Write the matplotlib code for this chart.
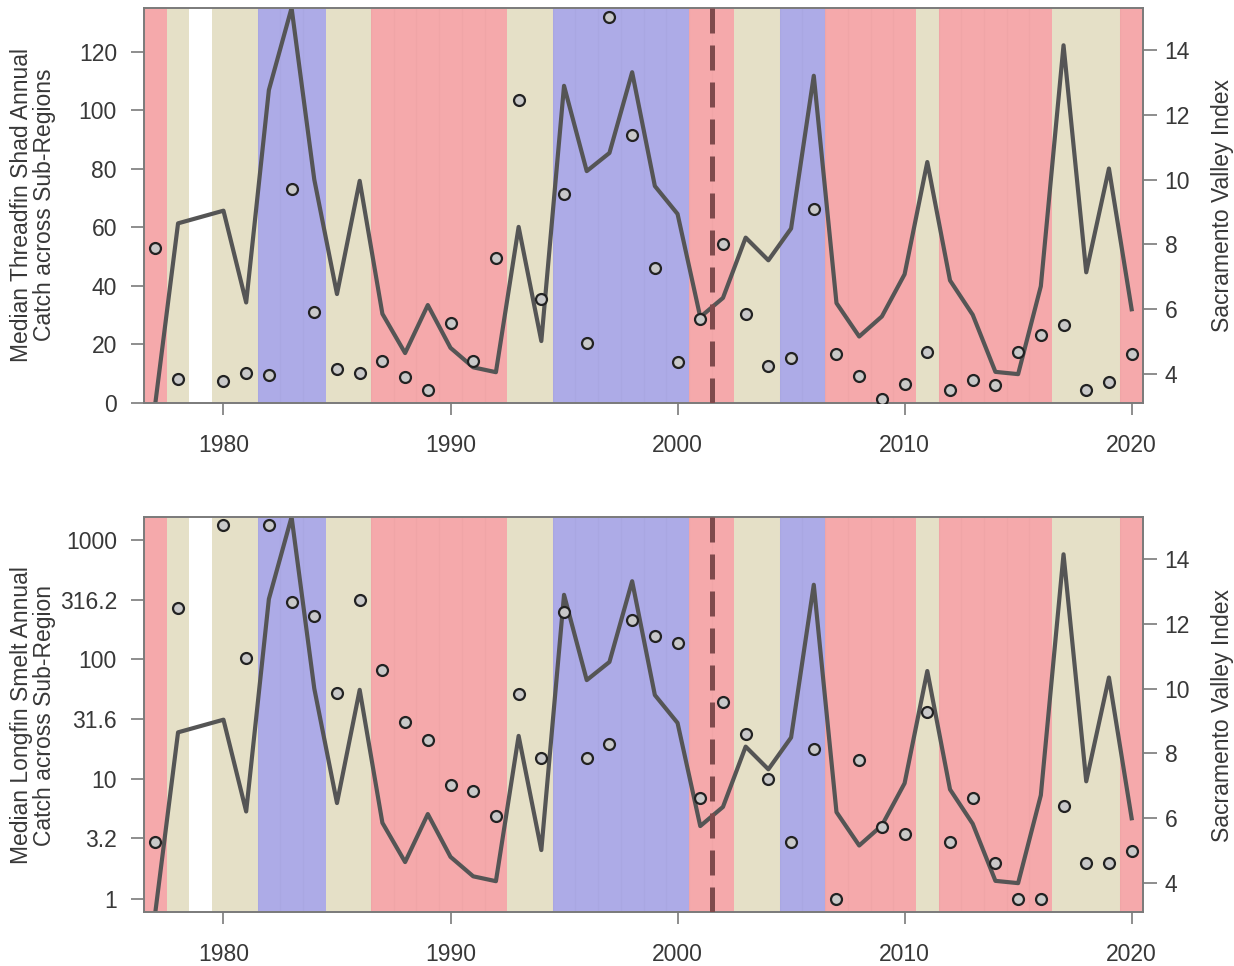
import numpy as np
import matplotlib
matplotlib.use("Agg")
import matplotlib.pyplot as plt

plt.rcParams['font.family'] = ['Liberation Sans', 'DejaVu Sans']

# water years with data (1979 missing)
years = [1977, 1978, 1980, 1981, 1982, 1983, 1984, 1985, 1986, 1987, 1988,
         1989, 1990, 1991, 1992, 1993, 1994, 1995, 1996, 1997, 1998, 1999,
         2000, 2001, 2002, 2003, 2004, 2005, 2006, 2007, 2008, 2009, 2010,
         2011, 2012, 2013, 2014, 2015, 2016, 2017, 2018, 2019, 2020]

# Sacramento Valley Index
svi = [3.11, 8.65, 9.04, 6.21, 12.76, 15.29, 10.00, 6.47, 9.96, 5.86, 4.65,
       6.13, 4.81, 4.21, 4.06, 8.54, 5.02, 12.89, 10.26, 10.82, 13.31, 9.80,
       8.94, 5.76, 6.35, 8.21, 7.51, 8.49, 13.20, 6.19, 5.16, 5.78, 7.08,
       10.54, 6.89, 5.83, 4.07, 4.00, 6.71, 14.14, 7.14, 10.34, 6.00]

# median threadfin shad catch
shad = [53.0, 8.2, 7.5, 10.2, 9.6, 73.2, 31.2, 11.7, 10.3, 14.3, 8.8,
        4.4, 27.3, 14.3, 49.7, 103.6, 35.4, 71.4, 20.4, 132.0, 91.6, 46.2,
        13.9, 28.7, 54.3, 30.4, 12.7, 15.3, 66.2, 16.8, 9.2, 1.4, 6.4,
        17.5, 4.4, 7.9, 6.2, 17.4, 23.2, 26.7, 4.4, 7.2, 16.8]

# median longfin smelt catch
smelt = [3.0, 271, 1320, 102, 1320, 303, 229, 52, 316, 82, 30,
         21.4, 8.9, 7.9, 4.9, 51.6, 15.1, 251, 15.1, 19.8, 215, 158,
         138, 7.0, 44.5, 24, 10, 3.0, 18, 1.0, 14.5, 4.0, 3.5,
         36.6, 3.0, 7.0, 2.0, 1.0, 1.0, 6.0, 2.0, 2.0, 2.5]

# background class for every year 1977-2020 ('x' = no data)
yr_class = ("d" "n" "x" "n" "n" "w" "w" "w" "n" "n" "d" "d" "d" "d" "d" "d"
            "n" "n" "w" "w" "w" "w" "w" "w" "d" "d" "n" "n" "w" "w" "d" "d"
            "d" "d" "n" "d" "d" "d" "d" "d" "n" "n" "n" "d")
class_col = {"d": "#F5A9AB", "n": "#E5E0C7", "w": "#ADABE7", "x": "#FFFFFF"}

shad_ticks = [0, 20, 40, 60, 80, 100, 120]
smelt_ticks = [1, 3.2, 10, 31.6, 100, 316.2, 1000]
smelt_ticklabels = ["1", "3.2", "10", "31.6", "100", "316.2", "1000"]
svi_ticks = [4, 6, 8, 10, 12, 14]
year_ticks = [1980, 1990, 2000, 2010, 2020]
break_year = 2001.5

W, H = 1234, 966
fig = plt.figure(figsize=(W / 100, H / 100), dpi=100)

frame_col = "#7a7a7a"
text_col = "#383838"
fs = 16.5


def panel(rect, catch, log=False):
    # back axes: year shading + index line
    ax2 = fig.add_axes(rect)
    for i, c in enumerate(yr_class):
        ax2.axvspan(1976.5 + i, 1977.5 + i, color=class_col[c], lw=0, zorder=0)
        if c in "dw":
            ax2.axvline(1976.5 + i, color="k", alpha=0.02, lw=1.0, zorder=1)
    ax2.plot(years, svi, color="#555555", lw=3.0, zorder=2)
    ax2.set_xlim(1976.5, 2020.5)
    ax2.set_ylim(3.11, 15.29)
    ax2.set_yticks(svi_ticks)
    ax2.yaxis.tick_right()
    ax2.set_xticks([])
    ax2.tick_params(axis="y", length=10, width=1.2, color=frame_col,
                    labelsize=fs, labelcolor=text_col, pad=5.5)
    for s in ax2.spines.values():
        s.set_visible(False)

    # front axes: catch points
    ax = fig.add_axes(rect)
    ax.patch.set_visible(False)
    ax.axvline(break_year, color="#7E4A4C", lw=3.6, dashes=(5, 2.4), zorder=3)
    ax.scatter(years, catch, s=62, facecolor="#C9C9C9", edgecolor="#222222",
               linewidths=1.6, zorder=4)
    ax.set_xlim(1976.5, 2020.5)
    if log:
        ax.set_yscale("log")
        ax.set_ylim(10 ** -0.11, 10 ** 3.19)
        ax.set_yticks(smelt_ticks)
        ax.set_yticklabels(smelt_ticklabels)
        ax.minorticks_off()
    else:
        ax.set_ylim(0, 135)
        ax.set_yticks(shad_ticks)
    ax.set_xticks(year_ticks)
    ax.tick_params(axis="y", length=9.5, width=1.2, color=frame_col,
                   labelsize=fs, labelcolor=text_col, pad=10)
    ax.tick_params(axis="x", length=8.6, width=1.2, color=frame_col,
                   labelsize=fs, labelcolor=text_col, pad=14)
    for s in ax.spines.values():
        s.set_color(frame_col)
        s.set_linewidth(1.4)
    return ax, ax2


left, right = 144 / W, 1143 / W
panel([left, 1 - 403 / H, right - left, 395 / H], shad)
panel([left, 1 - 912 / H, right - left, 395 / H], smelt, log=True)

fig.text(33 / W, 1 - 205 / H,
         "Median Threadfin Shad Annual\nCatch across Sub-Regions",
         rotation=90, ha="center", va="center", ma="center",
         fontsize=fs, color=text_col, linespacing=1.05)
fig.text(33 / W, 1 - 715 / H,
         "Median Longfin Smelt Annual\nCatch across Sub-Region",
         rotation=90, ha="center", va="center", ma="center",
         fontsize=fs, color=text_col, linespacing=1.05)
for yc in (206, 715):
    fig.text(1222 / W, 1 - yc / H, "Sacramento Valley Index", rotation=90,
             ha="center", va="center", fontsize=fs, color=text_col)

fig.savefig("out.png", dpi=100)
